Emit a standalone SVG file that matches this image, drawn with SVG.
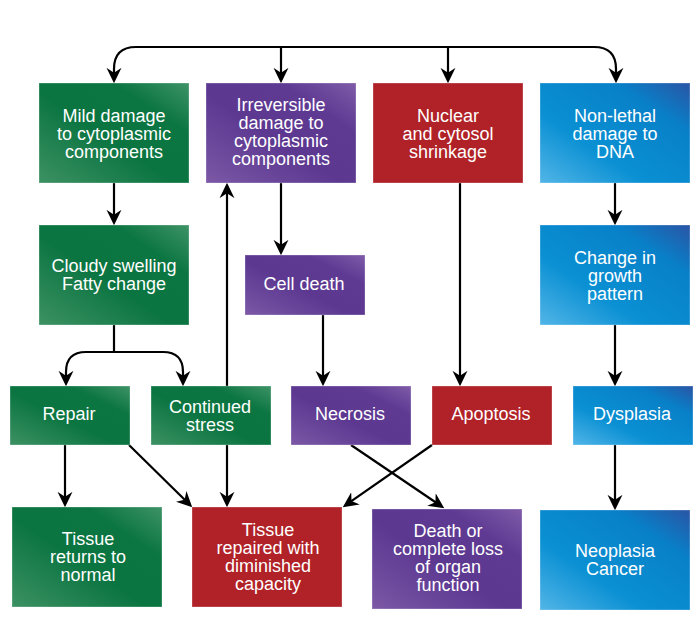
<svg xmlns="http://www.w3.org/2000/svg" width="698" height="618" viewBox="0 0 698 618">
<defs>
<linearGradient id="gGreen" x1="0" y1="1" x2="1" y2="0">
<stop offset="0" stop-color="#3d9163"/><stop offset="0.45" stop-color="#0b7541"/><stop offset="0.75" stop-color="#0c7642"/><stop offset="1" stop-color="#3e9366"/>
</linearGradient>
<linearGradient id="gPurple" x1="0" y1="1" x2="1" y2="0">
<stop offset="0" stop-color="#7c58a6"/><stop offset="0.45" stop-color="#5c3891"/><stop offset="0.75" stop-color="#5e3a93"/><stop offset="1" stop-color="#7f5ba8"/>
</linearGradient>
<linearGradient id="gBlue" x1="0" y1="1" x2="1" y2="0">
<stop offset="0" stop-color="#52b5e7"/><stop offset="0.35" stop-color="#0a90d3"/><stop offset="0.75" stop-color="#0880c8"/><stop offset="1" stop-color="#2a55a5"/>
</linearGradient>
<marker id="arr" markerUnits="userSpaceOnUse" markerWidth="16" markerHeight="16" refX="10" refY="7" orient="auto" viewBox="0 0 15 14">
<path d="M0,0 L14.5,7 L0,14 L4.5,7 Z" fill="#000"/>
</marker>
<style>
.box{stroke:rgba(255,255,255,0.3);stroke-width:1}
.g{fill:url(#gGreen)}
.p{fill:url(#gPurple)}
.b{fill:url(#gBlue)}
.r{fill:#b02227}
.t{font-family:"Liberation Sans",Arial,sans-serif;font-size:18px;fill:#fff;text-anchor:middle}
.c{fill:none;stroke:#000;stroke-width:2.2;marker-end:url(#arr)}
.l{fill:none;stroke:#000;stroke-width:2.2}
</style>
</defs>
<rect width="698" height="618" fill="#fff"/>

<g id="connectors">
<path class="l" d="M114,325 L114,352"/>
<path class="c" d="M281,47 L136,47 Q114,47 114,69 L114,78.5"/>
<path class="c" d="M281,47 L594,47 Q616,47 616,69 L616,78.5"/>
<path class="c" d="M281,47 L281,78.5"/>
<path class="c" d="M448,47 L448,78.5"/>
<path class="c" d="M114,183 L114,220.5"/>
<path class="c" d="M114,352 L86,352 Q66,352 66,372 L66,381.5"/>
<path class="c" d="M114,352 L163,352 Q183,352 183,372 L183,381.5"/>
<path class="c" d="M227,386 L227,187.5"/>
<path class="c" d="M227,445 L227,502.5"/>
<path class="c" d="M65,445 L65,502.5"/>
<path class="c" d="M129,445 L188.8,503.8"/>
<path class="c" d="M281,183 L281,250.5"/>
<path class="c" d="M323,315 L323,381.5"/>
<path class="c" d="M460,183 L460,381.5"/>
<path class="c" d="M351,445 L440.3,505.5"/>
<path class="c" d="M432,445 L346.7,504.4"/>
<path class="c" d="M615,183 L615,220.5"/>
<path class="c" d="M615,325 L615,381.5"/>
<path class="c" d="M615,445 L615,505.5"/>
</g>

<g id="mild-damage"><rect class="box g" x="39" y="83" width="150" height="100"/>
<text class="t"><tspan x="114" y="122">Mild damage</tspan><tspan x="114" y="140">to cytoplasmic</tspan><tspan x="114" y="158">components</tspan></text></g>

<g id="irreversible-damage"><rect class="box p" x="206" y="83" width="150" height="100"/>
<text class="t"><tspan x="281" y="111">Irreversible</tspan><tspan x="281" y="129">damage to</tspan><tspan x="281" y="147">cytoplasmic</tspan><tspan x="281" y="165">components</tspan></text></g>

<g id="nuclear-shrinkage"><rect class="box r" x="373" y="83" width="150" height="100"/>
<text class="t"><tspan x="448" y="122">Nuclear</tspan><tspan x="448" y="140">and cytosol</tspan><tspan x="448" y="158">shrinkage</tspan></text></g>

<g id="non-lethal-damage"><rect class="box b" x="540" y="83" width="150" height="100"/>
<text class="t"><tspan x="615" y="122">Non-lethal</tspan><tspan x="615" y="140">damage to</tspan><tspan x="615" y="158">DNA</tspan></text></g>

<g id="cloudy-swelling"><rect class="box g" x="39" y="225" width="150" height="100"/>
<text class="t"><tspan x="114" y="272">Cloudy swelling</tspan><tspan x="114" y="290">Fatty change</tspan></text></g>

<g id="cell-death"><rect class="box p" x="245" y="255" width="120" height="60"/>
<text class="t" x="304" y="290">Cell death</text></g>

<g id="change-growth"><rect class="box b" x="540" y="225" width="150" height="100"/>
<text class="t"><tspan x="615" y="264">Change in</tspan><tspan x="615" y="282">growth</tspan><tspan x="615" y="300">pattern</tspan></text></g>

<g id="repair"><rect class="box g" x="10" y="386" width="120" height="59"/>
<text class="t" x="69" y="420">Repair</text></g>

<g id="continued-stress"><rect class="box g" x="151" y="386" width="120" height="59"/>
<text class="t"><tspan x="210" y="413">Continued</tspan><tspan x="210" y="431">stress</tspan></text></g>

<g id="necrosis"><rect class="box p" x="291" y="386" width="120" height="59"/>
<text class="t" x="350" y="420">Necrosis</text></g>

<g id="apoptosis"><rect class="box r" x="432" y="386" width="120" height="59"/>
<text class="t" x="491" y="420">Apoptosis</text></g>

<g id="dysplasia"><rect class="box b" x="573" y="386" width="120" height="59"/>
<text class="t" x="632" y="420">Dysplasia</text></g>

<g id="tissue-normal"><rect class="box g" x="12" y="507" width="150" height="100"/>
<text class="t"><tspan x="88" y="545">Tissue</tspan><tspan x="88" y="563">returns to</tspan><tspan x="88" y="581">normal</tspan></text></g>

<g id="tissue-repaired"><rect class="box r" x="192" y="507" width="150" height="100"/>
<text class="t"><tspan x="268" y="536">Tissue</tspan><tspan x="268" y="554">repaired with</tspan><tspan x="268" y="572">diminished</tspan><tspan x="268" y="590">capacity</tspan></text></g>

<g id="death-organ"><rect class="box p" x="372" y="509" width="150" height="100"/>
<text class="t"><tspan x="448" y="537">Death or</tspan><tspan x="448" y="555">complete loss</tspan><tspan x="448" y="573">of organ</tspan><tspan x="448" y="591">function</tspan></text></g>

<g id="neoplasia"><rect class="box b" x="540" y="510" width="150" height="100"/>
<text class="t"><tspan x="615" y="557">Neoplasia</tspan><tspan x="615" y="575">Cancer</tspan></text></g>
</svg>
